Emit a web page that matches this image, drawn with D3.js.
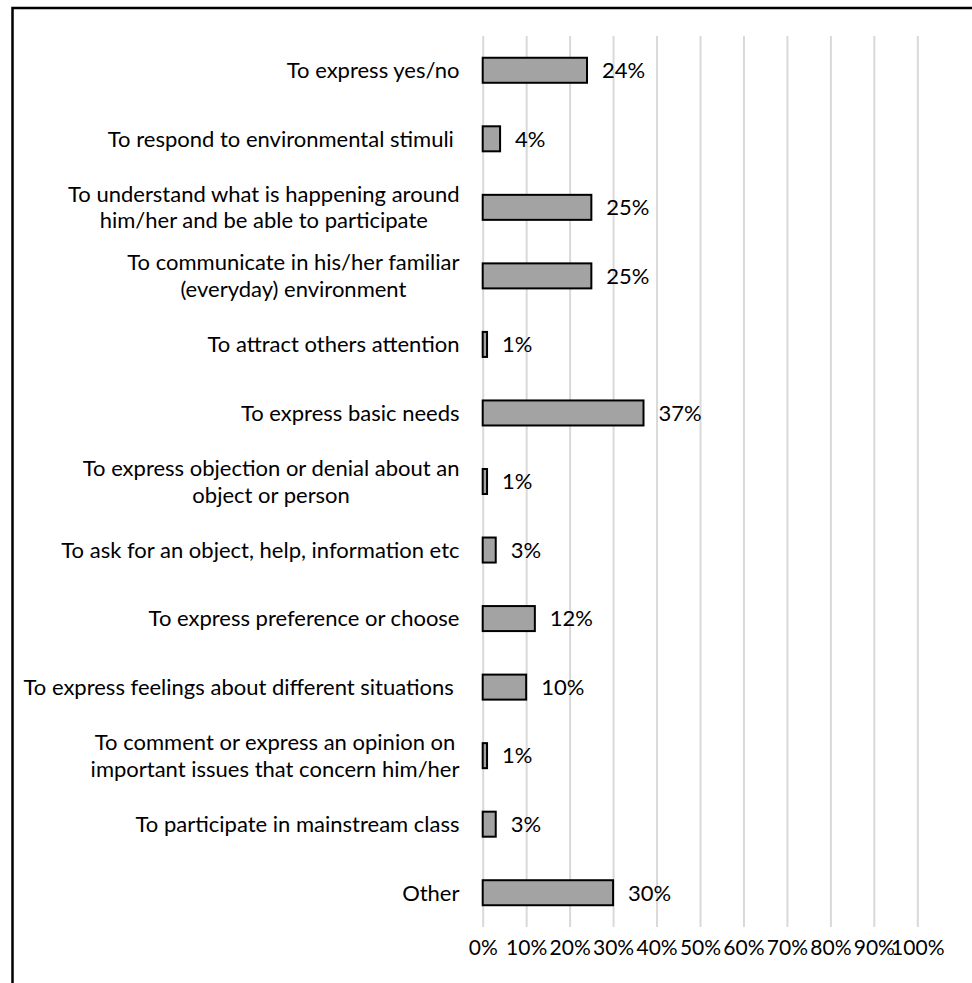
<!DOCTYPE html>
<html>
<head>
<meta charset="utf-8">
<script src="https://cdn.jsdelivr.net/npm/d3@7"></script>
<style>
  body { margin: 0; background: #fff; }
  text { font-family: Lato, "Open Sans", sans-serif; fill: #000; white-space: pre; }
</style>
</head>
<body>
<svg id="chart" width="972" height="983"></svg>
<script>
// Reasons for communication support, share of respondents (%)
const categoryLines = [
  ["To express yes/no"],
  ["To respond to environmental stimuli "],
  ["To understand what is happening around", "him/her and be able to participate"],
  ["To communicate in his/her familiar", "(everyday) environment"],
  ["To attract others attention"],
  ["To express basic needs"],
  ["To express objection or denial about an", "object or person"],
  ["To ask for an object, help, information etc"],
  ["To express preference or choose"],
  ["To express feelings about different situations "],
  ["To comment or express an opinion on", "important issues that concern him/her"],
  ["To participate in mainstream class"],
  ["Other"]
];
const values = [24, 4, 25, 25, 1, 37, 1, 3, 12, 10, 1, 3, 30];
const tickValues = [0, 10, 20, 30, 40, 50, 60, 70, 80, 90, 100];

const fontSize = 22;
const tickFontSize = 21;
const lineGap = 26.5;
const baselineShift = 7.8;

const svg = d3.select("#chart");
const keys = categoryLines.map((_, i) => i);

const x = d3.scaleLinear().domain([0, 100]).range([482.7, 917.3]);
const y = d3.scaleBand().domain(keys).range([36, 927])
  .paddingInner(0.635).paddingOuter(0.3175);

// frame (top and left edges)
svg.append("path")
  .attr("d", "M12.5,983V8H972")
  .attr("fill", "none")
  .attr("stroke", "#000")
  .attr("stroke-width", 2.5);

// vertical gridlines and percentage ticks
const axis = svg.append("g")
  .attr("transform", "translate(0,927)")
  .call(d3.axisBottom(x)
    .tickValues(tickValues)
    .tickFormat(d => d + "%")
    .tickSizeInner(-(927 - 36))
    .tickSizeOuter(0));
axis.select(".domain").remove();
axis.selectAll(".tick line").attr("stroke", "#d9d9d9").attr("stroke-width", 2);
axis.selectAll(".tick text")
  .attr("y", 28).attr("dy", null)
  .attr("font-size", tickFontSize)
  .style("font-family", "Lato, sans-serif")
  .attr("fill", "#000");

// bars
svg.append("g").selectAll("rect")
  .data(values)
  .join("rect")
  .attr("x", x(0))
  .attr("y", (d, i) => y(i))
  .attr("width", d => x(d) - x(0))
  .attr("height", y.bandwidth())
  .attr("fill", "#a3a3a3")
  .attr("stroke", "#000")
  .attr("stroke-width", 2);

// value labels
svg.append("g").selectAll("text")
  .data(values)
  .join("text")
  .attr("x", d => x(d) + 15)
  .attr("y", (d, i) => y(i) + y.bandwidth() / 2 + baselineShift)
  .attr("font-size", fontSize)
  .text(d => d + "%");

// category labels, wrapped lines centred within a right-aligned block
const labelRight = 459.5;
const labels = svg.append("g");
categoryLines.forEach((lines, i) => {
  const cy = y(i) + y.bandwidth() / 2;
  const text = labels.append("text")
    .attr("font-size", fontSize)
    .attr("text-anchor", "middle");
  const spans = lines.map((line, j) => text.append("tspan")
    .attr("y", cy + (j - (lines.length - 1) / 2) * lineGap + baselineShift)
    .text(line));
  const maxW = d3.max(spans, s => s.node().getComputedTextLength());
  spans.forEach(s => s.attr("x", labelRight - maxW / 2));
});
</script>
</body>
</html>
